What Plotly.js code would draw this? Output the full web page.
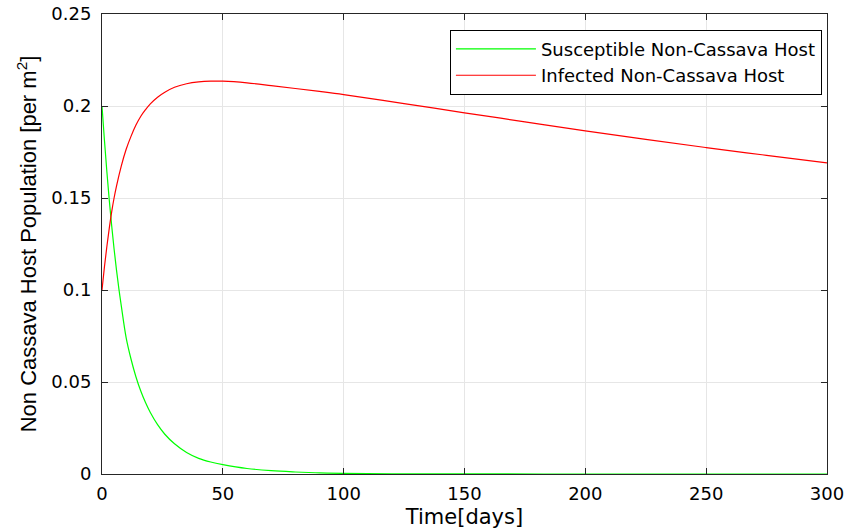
<!DOCTYPE html>
<html>
<head>
<meta charset="utf-8">
<script src="https://cdn.plot.ly/plotly-3.0.1.min.js"></script>
<style>html,body{margin:0;padding:0;background:#fff;}#chart{width:845px;height:531px;}</style>
</head>
<body>
<div id="chart"></div>
<script>
// Time (days) and population readings for each series
const tSusceptible = [0, 1, 2, 3, 4, 5, 6, 7, 8, 10, 12, 14, 16, 18, 20, 23, 26, 30, 35, 40, 45, 50, 60, 70, 80, 90, 100, 120, 150, 200, 250, 300];
const susceptible = [0.2, 0.1815, 0.1645, 0.149, 0.135, 0.1223, 0.1108, 0.1005, 0.0912, 0.074, 0.0625, 0.053, 0.0452, 0.0388, 0.0334, 0.0268, 0.0216, 0.0164, 0.0117, 0.0085, 0.0065, 0.0051, 0.003, 0.0018, 0.0011, 0.0006, 0.0003, 0.0001, 0.00003, 0, 0, 0];

const tInfected = [0, 1, 2, 3, 4, 5, 6, 8, 10, 12, 14, 16, 18, 20, 23, 26, 30, 35, 40, 45, 50, 60, 70, 80, 90, 100, 125, 150, 175, 200, 225, 250, 275, 300];
const infected = [0.1, 0.1125, 0.1235, 0.1335, 0.1425, 0.150, 0.1565, 0.1675, 0.1765, 0.1835, 0.1895, 0.1943, 0.198, 0.2012, 0.2048, 0.2075, 0.2102, 0.2121, 0.2131, 0.2135, 0.2135, 0.2126, 0.2111, 0.2095, 0.2079, 0.2062, 0.2013, 0.1963, 0.1914, 0.1865, 0.1819, 0.1774, 0.1732, 0.1691];

const seriesNames = ['Susceptible Non-Cassava Host', 'Infected Non-Cassava Host'];
const xTicks = [0, 50, 100, 150, 200, 250, 300];
const yTicks = [0, 0.05, 0.1, 0.15, 0.2, 0.25];
const yTickText = ['0', '0.05', '0.1', '0.15', '0.2', '0.25'];

const wideFont = 'DejaVu Sans, Arial, sans-serif';
const font = 'Liberation Sans, Arial, Helvetica, sans-serif';

const traces = [
  {x: tSusceptible, y: susceptible, name: seriesNames[0], mode: 'lines',
   line: {color: '#00ff00', width: 1.2, shape: 'spline', smoothing: 1}},
  {x: tInfected, y: infected, name: seriesNames[1], mode: 'lines',
   line: {color: '#ff0000', width: 1.2, shape: 'spline', smoothing: 1}}
];

const axisCommon = {
  showline: true, linecolor: '#262626', linewidth: 1, mirror: 'ticks',
  ticks: 'inside', ticklen: 6, tickcolor: '#262626', tickwidth: 1,
  showgrid: true, gridcolor: '#e6e6e6', gridwidth: 1, zeroline: false,
  tickfont: {family: wideFont, size: 18, color: '#000'}
};

const layout = {
  width: 845, height: 531,
  margin: {l: 102, r: 18, t: 14, b: 57},
  paper_bgcolor: '#fff', plot_bgcolor: '#fff',
  showlegend: true,
  xaxis: Object.assign({}, axisCommon, {
    range: [0, 300], tickvals: xTicks, ticktext: xTicks.map(String),
    ticklabelstandoff: 3,
    title: {text: 'Time[days]', font: {family: wideFont, size: 21, color: '#000'}, standoff: 6}
  }),
  yaxis: Object.assign({}, axisCommon, {
    range: [0, 0.25], tickvals: yTicks, ticktext: yTickText,
    ticklabelstandoff: 6,
    title: {text: 'Non Cassava Host Population [per m<sup>2</sup>]', font: {family: font, size: 22, color: '#000'}, standoff: 8}
  }),
  legend: {
    x: 0.993, y: 0.966, xanchor: 'right', yanchor: 'top',
    bgcolor: '#fff', bordercolor: '#000', borderwidth: 1,
    font: {family: wideFont, size: 18, color: '#000'},
    tracegroupgap: 0, itemwidth: 80
  }
};

Plotly.newPlot('chart', traces, layout, {staticPlot: true, displayModeBar: false});
</script>
</body>
</html>
